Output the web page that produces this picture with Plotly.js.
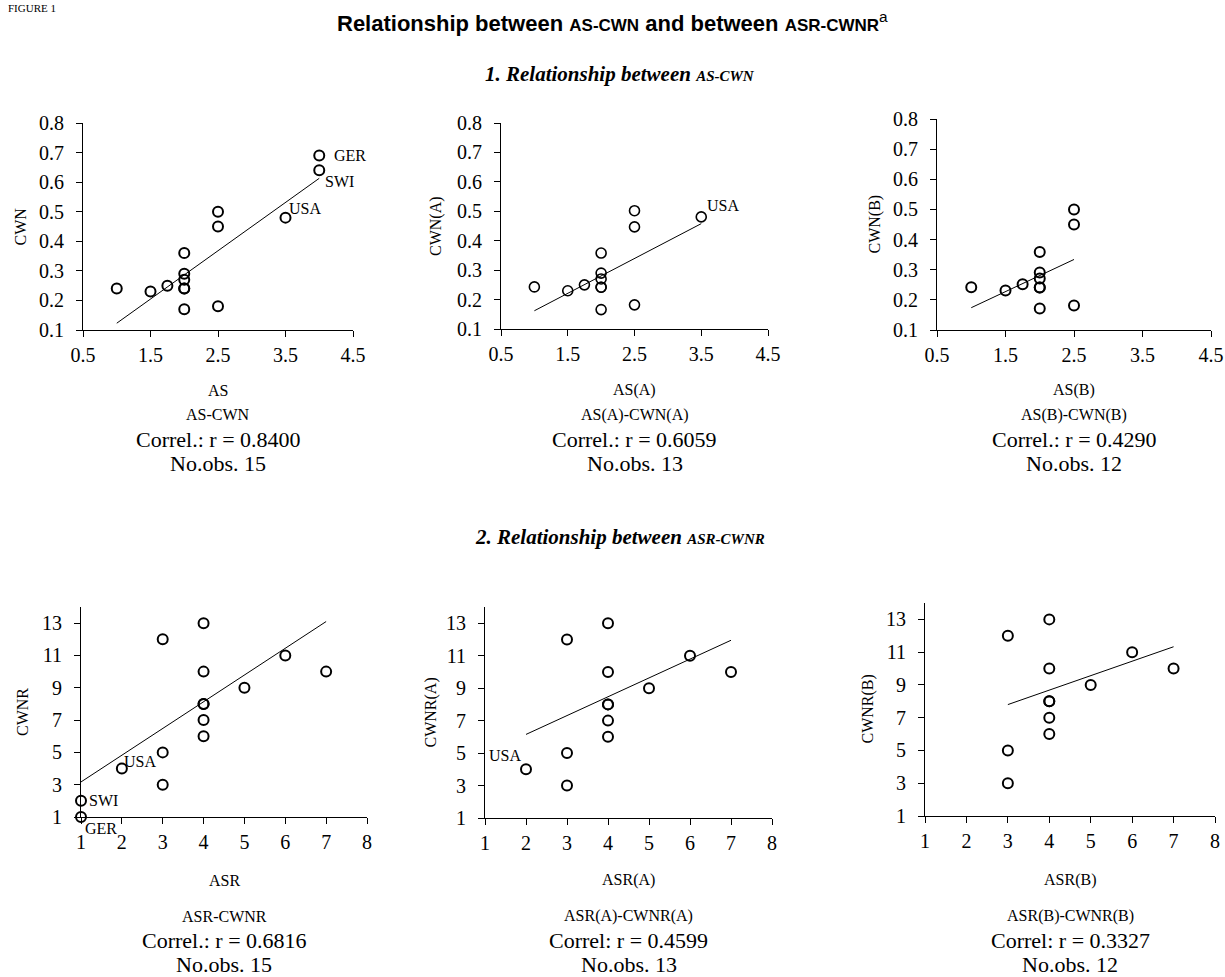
<!DOCTYPE html>
<html>
<head>
<meta charset="utf-8">
<script src="https://cdn.plot.ly/plotly-3.0.1.min.js"></script>
<style>html,body{margin:0;padding:0;background:#fff;}#chart{width:1225px;height:977px;}</style>
</head>
<body>
<div id="chart"></div>
<script>
// ---------- DATA ----------
// Panel 1: AS vs CWN (all, 15 obs)
const as1  = [1, 1.5, 1.75, 2, 2, 2, 2, 2, 2, 2.5, 2.5, 2.5, 3.5, 4, 4];
const cwn1 = [0.24, 0.23, 0.25, 0.36, 0.29, 0.27, 0.24, 0.24, 0.17, 0.50, 0.45, 0.18, 0.48, 0.69, 0.64];
const fit1X = [1, 4];
const fit1Y = [0.123, 0.613];
// Panel 2: AS(A) vs CWN(A) (13 obs)
const as2  = [1, 1.5, 1.75, 2, 2, 2, 2, 2, 2, 2.5, 2.5, 2.5, 3.5];
const cwn2 = [0.243, 0.23, 0.25, 0.358, 0.29, 0.27, 0.242, 0.242, 0.166, 0.502, 0.447, 0.182, 0.481];
const fit2X = [1, 3.5];
const fit2Y = [0.162, 0.458];
// Panel 3: AS(B) vs CWN(B) (12 obs)
const as3  = [1, 1.5, 1.75, 2, 2, 2, 2, 2, 2, 2.5, 2.5, 2.5];
const cwn3 = [0.242, 0.231, 0.252, 0.359, 0.291, 0.271, 0.241, 0.241, 0.171, 0.50, 0.45, 0.181];
const fit3X = [1, 2.5];
const fit3Y = [0.174, 0.334];
// Panel 4: ASR vs CWNR (15 obs)
const asr4  = [1, 1, 2, 3, 3, 3, 4, 4, 4, 4, 4, 4, 5, 6, 7];
const cwnr4 = [1, 2, 4, 3, 5, 12, 6, 7, 8, 8, 10, 13, 9, 11, 10];
const fit4X = [1, 7];
const fit4Y = [3.17, 13.1];
// Panel 5: ASR(A) vs CWNR(A) (13 obs)
const asr5  = [2, 3, 3, 3, 4, 4, 4, 4, 4, 4, 5, 6, 7];
const cwnr5 = [4, 3, 5, 12, 6, 7, 8, 8, 10, 13, 9, 11, 10];
const fit5X = [2, 7];
const fit5Y = [6.15, 11.95];
// Panel 6: ASR(B) vs CWNR(B) (12 obs)
const asr6  = [3, 3, 3, 4, 4, 4, 4, 4, 4, 5, 6, 7];
const cwnr6 = [3, 5, 12, 6, 7, 8, 8, 10, 13, 9, 11, 10];
const fit6X = [3, 7];
const fit6Y = [7.8, 11.33];

// Country labels
const lab1Text = ['GER', 'SWI', 'USA'];
const lab1X = [4, 4, 3.5];
const lab1Y = [0.69, 0.64, 0.48];
const lab2Text = ['USA'];
const lab2X = [3.5];
const lab2Y = [0.481];
const lab4Text = ['SWI', 'GER', 'USA'];
const lab4X = [1, 1, 2];
const lab4Y = [2, 1, 4];
const lab5Text = ['USA'];
const lab5X = [2];
const lab5Y = [4];

// Axis titles & captions
const xTitles = ['AS', 'AS(A)', 'AS(B)', 'ASR', 'ASR(A)', 'ASR(B)'];
const yTitles = ['CWN', 'CWN(A)', 'CWN(B)', 'CWNR', 'CWNR(A)', 'CWNR(B)'];
const pairNames = ['AS-CWN', 'AS(A)-CWN(A)', 'AS(B)-CWN(B)', 'ASR-CWNR', 'ASR(A)-CWNR(A)', 'ASR(B)-CWNR(B)'];
const correlText = ['Correl.: r = 0.8400', 'Correl.: r = 0.6059', 'Correl.: r = 0.4290',
                    'Correl.: r = 0.6816', 'Correl: r = 0.4599', 'Correl: r = 0.3327'];
const nObs = [15, 13, 12, 15, 13, 12];

// ---------- LAYOUT HELPERS ----------
const W = 1225, H = 977;
const px = x => x / W;
const py = y => 1 - y / H;
const SERIF = 'Liberation Serif, Times New Roman, serif';
const SANS = 'Liberation Sans, Arial, sans-serif';

// pixel boxes [left, right, top, bottom]
const boxes = [
  [83, 353, 123, 330],
  [501, 768, 123, 329],
  [937, 1211, 119, 330],
  [81, 367, 607, 817],
  [485, 772, 607, 818],
  [925, 1215, 603, 816]
];
const yTitleX = [20, 436, 874, 22, 430, 867];

const xs = [as1, as2, as3, asr4, asr5, asr6];
const ys = [cwn1, cwn2, cwn3, cwnr4, cwnr5, cwnr6];
const fx = [fit1X, fit2X, fit3X, fit4X, fit5X, fit6X];
const fy = [fit1Y, fit2Y, fit3Y, fit4Y, fit5Y, fit6Y];

const traces = [];
const layout = {
  width: W, height: H,
  margin: {l: 0, r: 0, t: 0, b: 0},
  paper_bgcolor: '#fff', plot_bgcolor: '#fff',
  showlegend: false,
  font: {family: SERIF, color: '#000'},
  annotations: []
};

for (let i = 0; i < 6; i++) {
  const n = i + 1;
  const xa = 'x' + (n === 1 ? '' : n);
  const ya = 'y' + (n === 1 ? '' : n);
  const top = i < 3;
  const mw = (i === 1) ? 1.6 : 2;
  traces.push({
    type: 'scatter', mode: 'lines', x: fx[i], y: fy[i],
    xaxis: xa, yaxis: ya, line: {color: '#000', width: 1}, hoverinfo: 'skip'
  });
  traces.push({
    type: 'scatter', mode: 'markers', x: xs[i], y: ys[i],
    xaxis: xa, yaxis: ya, cliponaxis: false,
    marker: {symbol: 'circle-open', size: 10, color: '#000', line: {width: mw, color: '#000'}}
  });
  const b = boxes[i];
  const axCommon = {
    showline: true, linecolor: '#000', linewidth: 1,
    ticks: 'outside', ticklen: 6, tickcolor: '#000', tickwidth: 1,
    showgrid: false, zeroline: false,
    tickfont: {family: SERIF, size: 20, color: '#000'}
  };
  layout['xaxis' + (n === 1 ? '' : n)] = Object.assign({}, axCommon, {
    domain: [px(b[0]), px(b[1])], anchor: ya,
    range: top ? [0.5, 4.5] : [1, 8],
    tickmode: 'linear', tick0: top ? 0.5 : 1, dtick: 1,
    ticklabelstandoff: 1
  });
  layout['yaxis' + (n === 1 ? '' : n)] = Object.assign({}, axCommon, {
    domain: [py(b[3]), py(b[2])], anchor: xa,
    range: top ? [0.1, 0.8] : [1, 14],
    tickmode: 'linear', tick0: top ? 0.1 : 1, dtick: top ? 0.1 : 2,
    tickformat: top ? '.1f' : 'd',
    ticklabelstandoff: 8
  });
  if (!top) {
    layout['yaxis' + n].tickvals = [1, 3, 5, 7, 9, 11, 13];
    layout['yaxis' + n].tickmode = 'array';
  }
  const cx = (b[0] + b[1]) / 2;
  const cy = (b[2] + b[3]) / 2;
  // y-axis title
  layout.annotations.push({
    xref: 'paper', yref: 'paper', x: px(yTitleX[i]), y: py(cy),
    text: yTitles[i], textangle: -90, showarrow: false,
    xanchor: 'center', yanchor: 'middle',
    font: {family: SERIF, size: 16, color: '#000'}
  });
  // caption block
  const lines = top ? [390, 415, 439, 463] : [880, 916, 940, 964];
  const texts = [xTitles[i], pairNames[i], correlText[i], 'No.obs. ' + nObs[i]];
  const sizes = [16, 16, 22, 22];
  for (let k = 0; k < 4; k++) {
    layout.annotations.push({
      xref: 'paper', yref: 'paper', x: px(cx), y: py(lines[k]),
      text: texts[k], showarrow: false, xanchor: 'center', yanchor: 'middle',
      font: {family: SERIF, size: sizes[k], color: '#000'}
    });
  }
}

// country labels
function addLabels(axn, tx, lx, ly, offs, anchor) {
  for (let k = 0; k < tx.length; k++) {
    layout.annotations.push({
      xref: 'x' + axn, yref: 'y' + axn, x: lx[k], y: ly[k], text: tx[k],
      showarrow: false, xanchor: anchor[k], yanchor: 'middle',
      xshift: offs[k][0], yshift: offs[k][1],
      font: {family: SERIF, size: 16, color: '#000'}
    });
  }
}
addLabels('', lab1Text, lab1X, lab1Y, [[13, 0], [4, -11], [1, 9]], ['left', 'left', 'left']);
addLabels('2', lab2Text, lab2X, lab2Y, [[4, 11]], ['left']);
addLabels('4', lab4Text, lab4X, lab4Y, [[6, 0], [2, -11], [0, 7]], ['left', 'left', 'left']);
addLabels('5', lab5Text, lab5X, lab5Y, [[-3, 14]], ['right']);

// titles
layout.annotations.push({
  xref: 'paper', yref: 'paper', x: px(6), y: py(0), xanchor: 'left', yanchor: 'top',
  text: 'FIGURE 1', showarrow: false, font: {family: SERIF, size: 11, color: '#000'}
});
layout.annotations.push({
  xref: 'paper', yref: 'paper', x: px(612), y: py(22), xanchor: 'center', yanchor: 'middle',
  text: '<b>Relationship between <span style="font-size:17px">AS-CWN</span> and between <span style="font-size:17px">ASR-CWNR</span></b><sup>a</sup>',
  showarrow: false, font: {family: SANS, size: 22, color: '#000'}
});
layout.annotations.push({
  xref: 'paper', yref: 'paper', x: px(620), y: py(74), xanchor: 'center', yanchor: 'middle',
  text: '<b><i>1. Relationship between <span style="font-size:15px">AS-CWN</span></i></b>',
  showarrow: false, font: {family: SERIF, size: 21, color: '#000'}
});
layout.annotations.push({
  xref: 'paper', yref: 'paper', x: px(620), y: py(537), xanchor: 'center', yanchor: 'middle',
  text: '<b><i>2. Relationship between <span style="font-size:15px">ASR-CWNR</span></i></b>',
  showarrow: false, font: {family: SERIF, size: 21, color: '#000'}
});

Plotly.newPlot('chart', traces, layout, {staticPlot: true, displayModeBar: false});
</script>
</body>
</html>
